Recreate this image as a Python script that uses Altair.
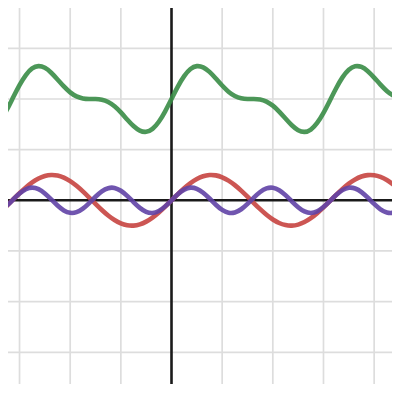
import altair as alt
import pandas as pd

x_vals = [-6.75, -6.5, -6.25, -6.0, -5.75, -5.5, -5.25, -5.0, -4.75, -4.5, -4.25, -4.0,
          -3.75, -3.5, -3.25, -3.0, -2.75, -2.5, -2.25, -2.0, -1.75, -1.5, -1.25, -1.0,
          -0.75, -0.5, -0.25, 0.0, 0.25, 0.5, 0.75, 1.0, 1.25, 1.5, 1.75, 2.0,
          2.25, 2.5, 2.75, 3.0, 3.25, 3.5, 3.75, 4.0, 4.25, 4.5, 4.75, 5.0,
          5.25, 5.5, 5.75, 6.0, 6.25, 6.5, 6.75, 7.0, 7.25, 7.5, 7.75, 8.0,
          8.25, 8.5, 8.75, 9.0, 9.25]

red = [-0.450, -0.215, 0.033, 0.279, 0.508, 0.706, 0.859, 0.959, 0.999, 0.978, 0.895, 0.757,
       0.572, 0.351, 0.108, -0.141, -0.382, -0.599, -0.778, -0.909, -0.984, -0.998, -0.949, -0.841,
       -0.682, -0.479, -0.247, 0.0, 0.247, 0.479, 0.682, 0.841, 0.949, 0.998, 0.984, 0.909,
       0.778, 0.599, 0.382, 0.141, -0.108, -0.351, -0.572, -0.757, -0.895, -0.978, -0.999, -0.959,
       -0.859, -0.706, -0.508, -0.279, -0.033, 0.215, 0.450, 0.657, 0.823, 0.938, 0.995, 0.989,
       0.923, 0.799, 0.625, 0.412, 0.174]

purple = [-0.402, -0.210, 0.033, 0.268, 0.438, 0.500, 0.440, 0.272, 0.038, -0.206, -0.399, -0.495,
          -0.469, -0.329, -0.108, 0.140, 0.353, 0.479, 0.489, 0.378, 0.175, -0.071, -0.299, -0.455,
          -0.499, -0.421, -0.240, 0.0, 0.240, 0.421, 0.499, 0.455, 0.299, 0.071, -0.175, -0.378,
          -0.489, -0.479, -0.353, -0.140, 0.108, 0.329, 0.469, 0.495, 0.399, 0.206, -0.038, -0.272,
          -0.440, -0.500, -0.438, -0.268, -0.033, 0.210, 0.402, 0.495, 0.467, 0.325, 0.103, -0.144,
          -0.356, -0.481, -0.488, -0.376, -0.169]

green = [3.148, 3.575, 4.066, 4.547, 4.946, 5.206, 5.299, 5.231, 5.037, 4.772, 4.496, 4.262,
         4.103, 4.022, 4.000, 3.999, 3.971, 3.880, 3.711, 3.469, 3.191, 2.931, 2.752, 2.704,
         2.819, 3.100, 3.513, 4.000, 4.487, 4.900, 5.181, 5.296, 5.248, 5.069, 4.809, 4.531,
         4.289, 4.120, 4.029, 4.001, 4.000, 3.978, 3.897, 3.738, 3.504, 3.228, 2.963, 2.769,
         2.701, 2.794, 3.054, 3.453, 3.934, 4.425, 4.852, 5.152, 5.290, 5.263, 5.098, 4.845,
         4.567, 4.318, 4.137, 4.036, 4.005]

grid_x = [-6, -4, -2, 2, 4, 6, 8]
grid_y = [-6, -4, -2, 2, 4, 6]
axis_pos = [0]

df = pd.DataFrame({"x": x_vals, "red": red, "purple": purple, "green": green})
gx_df = pd.DataFrame({"g": grid_x})
gy_df = pd.DataFrame({"g": grid_y})
axes_df = pd.DataFrame({"v": axis_pos})

xs = alt.Scale(domain=[-6.455, 8.705], nice=False, zero=False)
ys = alt.Scale(domain=[-7.252, 7.592], nice=False, zero=False)

GRID = "#dddddd"
AXIS = "#1a1a1a"

grid_v = alt.Chart(gx_df).mark_rule(color=GRID, strokeWidth=1.7).encode(
    x=alt.X("g:Q", scale=xs, axis=None)
)
grid_h = alt.Chart(gy_df).mark_rule(color=GRID, strokeWidth=1.7).encode(
    y=alt.Y("g:Q", scale=ys, axis=None)
)
vrule = alt.Chart(axes_df).mark_rule(color=AXIS, strokeWidth=2.6).encode(
    x=alt.X("v:Q", scale=xs, axis=None)
)
hrule = alt.Chart(axes_df).mark_rule(color=AXIS, strokeWidth=2.6).encode(
    y=alt.Y("v:Q", scale=ys, axis=None)
)

base = alt.Chart(df)


def curve(col, color):
    return base.mark_line(color=color, strokeWidth=4.6, strokeOpacity=0.9, clip=True,
                          interpolate="natural", strokeCap="round").encode(
        x=alt.X("x:Q", scale=xs, axis=None),
        y=alt.Y(f"{col}:Q", scale=ys, axis=None),
    )


chart = alt.layer(
    grid_v, grid_h, vrule, hrule,
    curve("green", "#388c46"),
    curve("red", "#c74440"),
    curve("purple", "#6042a6"),
).properties(
    width=384, height=376, padding=0, autosize="none"
).configure_view(stroke=None)

chart.save("out.html", embed_options={"renderer": "svg", "actions": False})
